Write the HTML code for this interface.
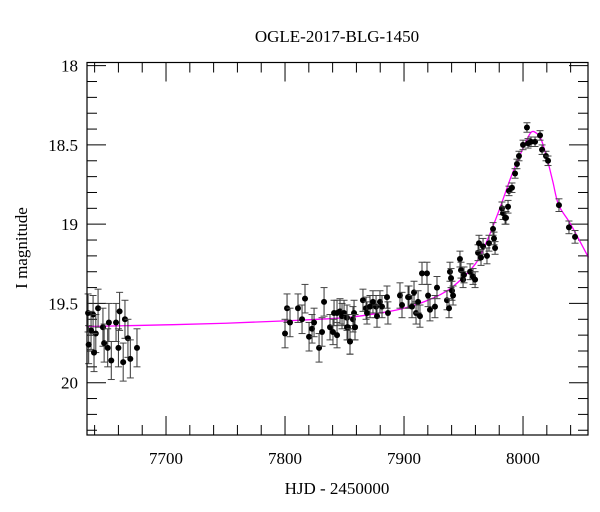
<!DOCTYPE html>
<html><head><meta charset="utf-8"><style>
body{margin:0;background:#fff;}
svg{display:block;font-family:"Liberation Serif",serif;}
</style></head><body>
<svg id="chart" width="600" height="512" viewBox="0 0 600 512">
<text x="337" y="42" text-anchor="middle" font-size="17">OGLE-2017-BLG-1450</text>
<text x="337" y="494" text-anchor="middle" font-size="17">HJD - 2450000</text>
<text transform="translate(27,248) rotate(-90)" text-anchor="middle" font-size="17">I magnitude</text>
<g id="ticks"></g>
<g id="model"></g>
<g id="points"></g>
<rect x="87" y="62.5" width="501" height="372.5" fill="none" stroke="#000" stroke-width="1.2"/>
</svg>
<script>
const obsT=[7634.5,7638.7,7642.9,7637,7641,7635,7639.5,7647,7648,7651,7652,7654,7658,7660,7661,7664,7665.5,7668,7670,7675.6,
7800,7801.7,7804.2,7810.9,7814.3,7816.8,7820.2,7822.7,7824.4,7828.6,7831.1,7832.8,7837.8,7840.3,7841.2,7843.7,7843.7,7846.2,7847.9,7849.6,7852.1,7852.9,7854.6,7857.1,7858,7858.8,7852.1,7854.6,7858.8,
7865.5,7868.1,7868.9,7871.4,7873.9,7876.5,7877.3,7879.8,7881.5,7885.7,7886.5,7896.6,7898.3,7903.4,
7904.2,7906.7,7908.4,7910.1,7911.8,7913.4,7915.1,7919.3,7920.2,7921.8,7926,7927.7,7936.1,7937.8,7938.6,7939.5,7940.3,7941.2,
7947,7947.9,7949.6,7950.4,7955.5,7958,7959.7,7962.2,7963,7964.7,7966.4,7969.7,7971.4,7974.8,7975.6,7976.5,
7982.3,7983.2,7985.7,7988.2,7984.9,7987.4,7990.7,7993.3,7994.9,7996.6,8000,8003.3,8004.2,8006.7,8010.1,8014.3,8016,8019.3,8021,8030.2,8038.6,8043.7];
const obsMag=[19.56,19.57,19.53,19.67,19.69,19.76,19.81,19.65,19.75,19.78,19.62,19.86,19.62,19.78,19.55,19.87,19.60,19.72,19.85,19.78,
19.69,19.53,19.62,19.53,19.60,19.47,19.71,19.66,19.62,19.78,19.68,19.49,19.65,19.68,19.56,19.56,19.70,19.55,19.58,19.56,19.59,19.65,19.74,19.60,19.56,19.65,19.65,19.74,19.65,
19.48,19.53,19.56,19.52,19.49,19.52,19.58,19.49,19.52,19.46,19.56,19.45,19.51,19.46,
19.46,19.52,19.43,19.56,19.49,19.58,19.31,19.31,19.45,19.54,19.52,19.40,19.48,19.53,19.30,19.34,19.42,19.45,
19.22,19.29,19.35,19.32,19.30,19.33,19.35,19.18,19.12,19.21,19.14,19.20,19.12,19.03,19.09,19.15,
18.90,18.93,18.96,18.79,18.96,18.89,18.77,18.68,18.62,18.57,18.50,18.39,18.49,18.48,18.48,18.44,18.53,18.57,18.60,18.88,19.02,19.08];
const obsErr=[0.12,0.12,0.12,0.12,0.12,0.12,0.12,0.12,0.12,0.12,0.12,0.12,0.12,0.12,0.12,0.12,0.12,0.12,0.12,0.12,
0.09,0.09,0.09,0.09,0.09,0.09,0.09,0.09,0.09,0.09,0.09,0.09,0.08,0.08,0.08,0.08,0.08,0.08,0.08,0.08,0.08,0.08,0.08,0.08,0.08,0.08,0.08,0.08,0.08,
0.07,0.07,0.07,0.07,0.07,0.07,0.07,0.07,0.07,0.07,0.07,0.08,0.08,0.07,
0.07,0.07,0.07,0.07,0.07,0.07,0.07,0.07,0.07,0.07,0.07,0.07,0.06,0.06,0.06,0.06,0.06,0.06,
0.05,0.05,0.05,0.05,0.05,0.05,0.05,0.05,0.05,0.05,0.05,0.05,0.05,0.04,0.04,0.04,
0.04,0.04,0.04,0.03,0.04,0.04,0.03,0.03,0.03,0.03,0.03,0.03,0.03,0.03,0.03,0.03,0.03,0.03,0.03,0.04,0.04,0.04];
const modelT=[7633,7650,7700,7750,7800,7850,7880,7900,7920,7940,7960,7970,7980,7990,8000,8005,8008,8012,8015,8020,8025,8030,8040,8055];
const modelMag=[19.645,19.643,19.635,19.625,19.61,19.59,19.56,19.53,19.48,19.40,19.25,19.10,18.91,18.70,18.52,18.44,18.415,18.43,18.46,18.58,18.73,18.88,19.0,19.21];
const xTicks=[7700,7800,7900,8000];
const yTicks=[18,18.5,19,19.5,20];
const xMin=7633.6,xMax=8054.6,yMin=17.98,yMax=20.33;
const L=87,R=588,T=62.5,B=435;
function X(t){return L+(t-xMin)/(xMax-xMin)*(R-L);}
function Y(m){return T+(m-yMin)/(yMax-yMin)*(B-T);}
const NS="http://www.w3.org/2000/svg";
function mk(tag,attrs,parent){const e=document.createElementNS(NS,tag);for(const k in attrs)e.setAttribute(k,attrs[k]);parent.appendChild(e);return e;}
const tg=document.getElementById('ticks');
for(let v=7640;v<=8054;v+=20){
  const major=v%100===0, len=major?19:10, x=X(v);
  const a=mk('line',{x1:x,x2:x,y1:B,y2:B-len,stroke:'#000','stroke-width':1},tg);
  
  
  const b=mk('line',{x1:x,x2:x,y1:T,y2:T+len,stroke:'#000','stroke-width':1},tg);
  
  
}
for(let i=0;i<=23;i++){
  const v=18+i*0.1; if(v>yMax)break;
  const major=i%5===0,len=major?19:10,y=Y(v);
  const a=mk('line',{x1:L,x2:L+len,y1:y,y2:y,stroke:'#000','stroke-width':1},tg);
  
  
  const b=mk('line',{x1:R,x2:R-len,y1:y,y2:y,stroke:'#000','stroke-width':1},tg);
  
  
}
xTicks.forEach(v=>{
  const t=mk('text',{x:X(v),y:B+29,'text-anchor':'middle','font-size':17},tg);t.textContent=String(v);
  
  
});
yTicks.forEach(v=>{
  const t=mk('text',{x:L-9,y:Y(v)+6,'text-anchor':'end','font-size':17},tg);t.textContent=String(v);
  
  
});
// model curve (smooth Catmull-Rom)
const pts=modelT.map((t,i)=>[X(t),Y(modelMag[i])]);
let d='M'+pts[0][0]+','+pts[0][1];
for(let i=0;i<pts.length-1;i++){
  const p0=pts[Math.max(0,i-1)],p1=pts[i],p2=pts[i+1],p3=pts[Math.min(pts.length-1,i+2)];
  d+=' C'+(p1[0]+(p2[0]-p0[0])/6)+','+(p1[1]+(p2[1]-p0[1])/6)+' '+(p2[0]-(p3[0]-p1[0])/6)+','+(p2[1]-(p3[1]-p1[1])/6)+' '+p2[0]+','+p2[1];
}
const mp=mk('path',{d:d,fill:'none',stroke:'#ff00ff','stroke-width':1.3},document.getElementById('model'));


const pg=document.getElementById('points');
obsT.forEach((t,i)=>{
  const x=X(t),y=Y(obsMag[i]),y1=Y(obsMag[i]-obsErr[i]),y2=Y(obsMag[i]+obsErr[i]);
  const g=mk('g',{},pg);
  
  
  mk('line',{x1:x,x2:x,y1:y1,y2:y2,stroke:'#333','stroke-width':1},g);
  mk('line',{x1:x-3.5,x2:x+3.5,y1:y1,y2:y1,stroke:'#444','stroke-width':1},g);
  mk('line',{x1:x-3.5,x2:x+3.5,y1:y2,y2:y2,stroke:'#444','stroke-width':1},g);
  mk('circle',{cx:x,cy:y,r:3,fill:'#000'},g);
});
</script>
</body></html>
